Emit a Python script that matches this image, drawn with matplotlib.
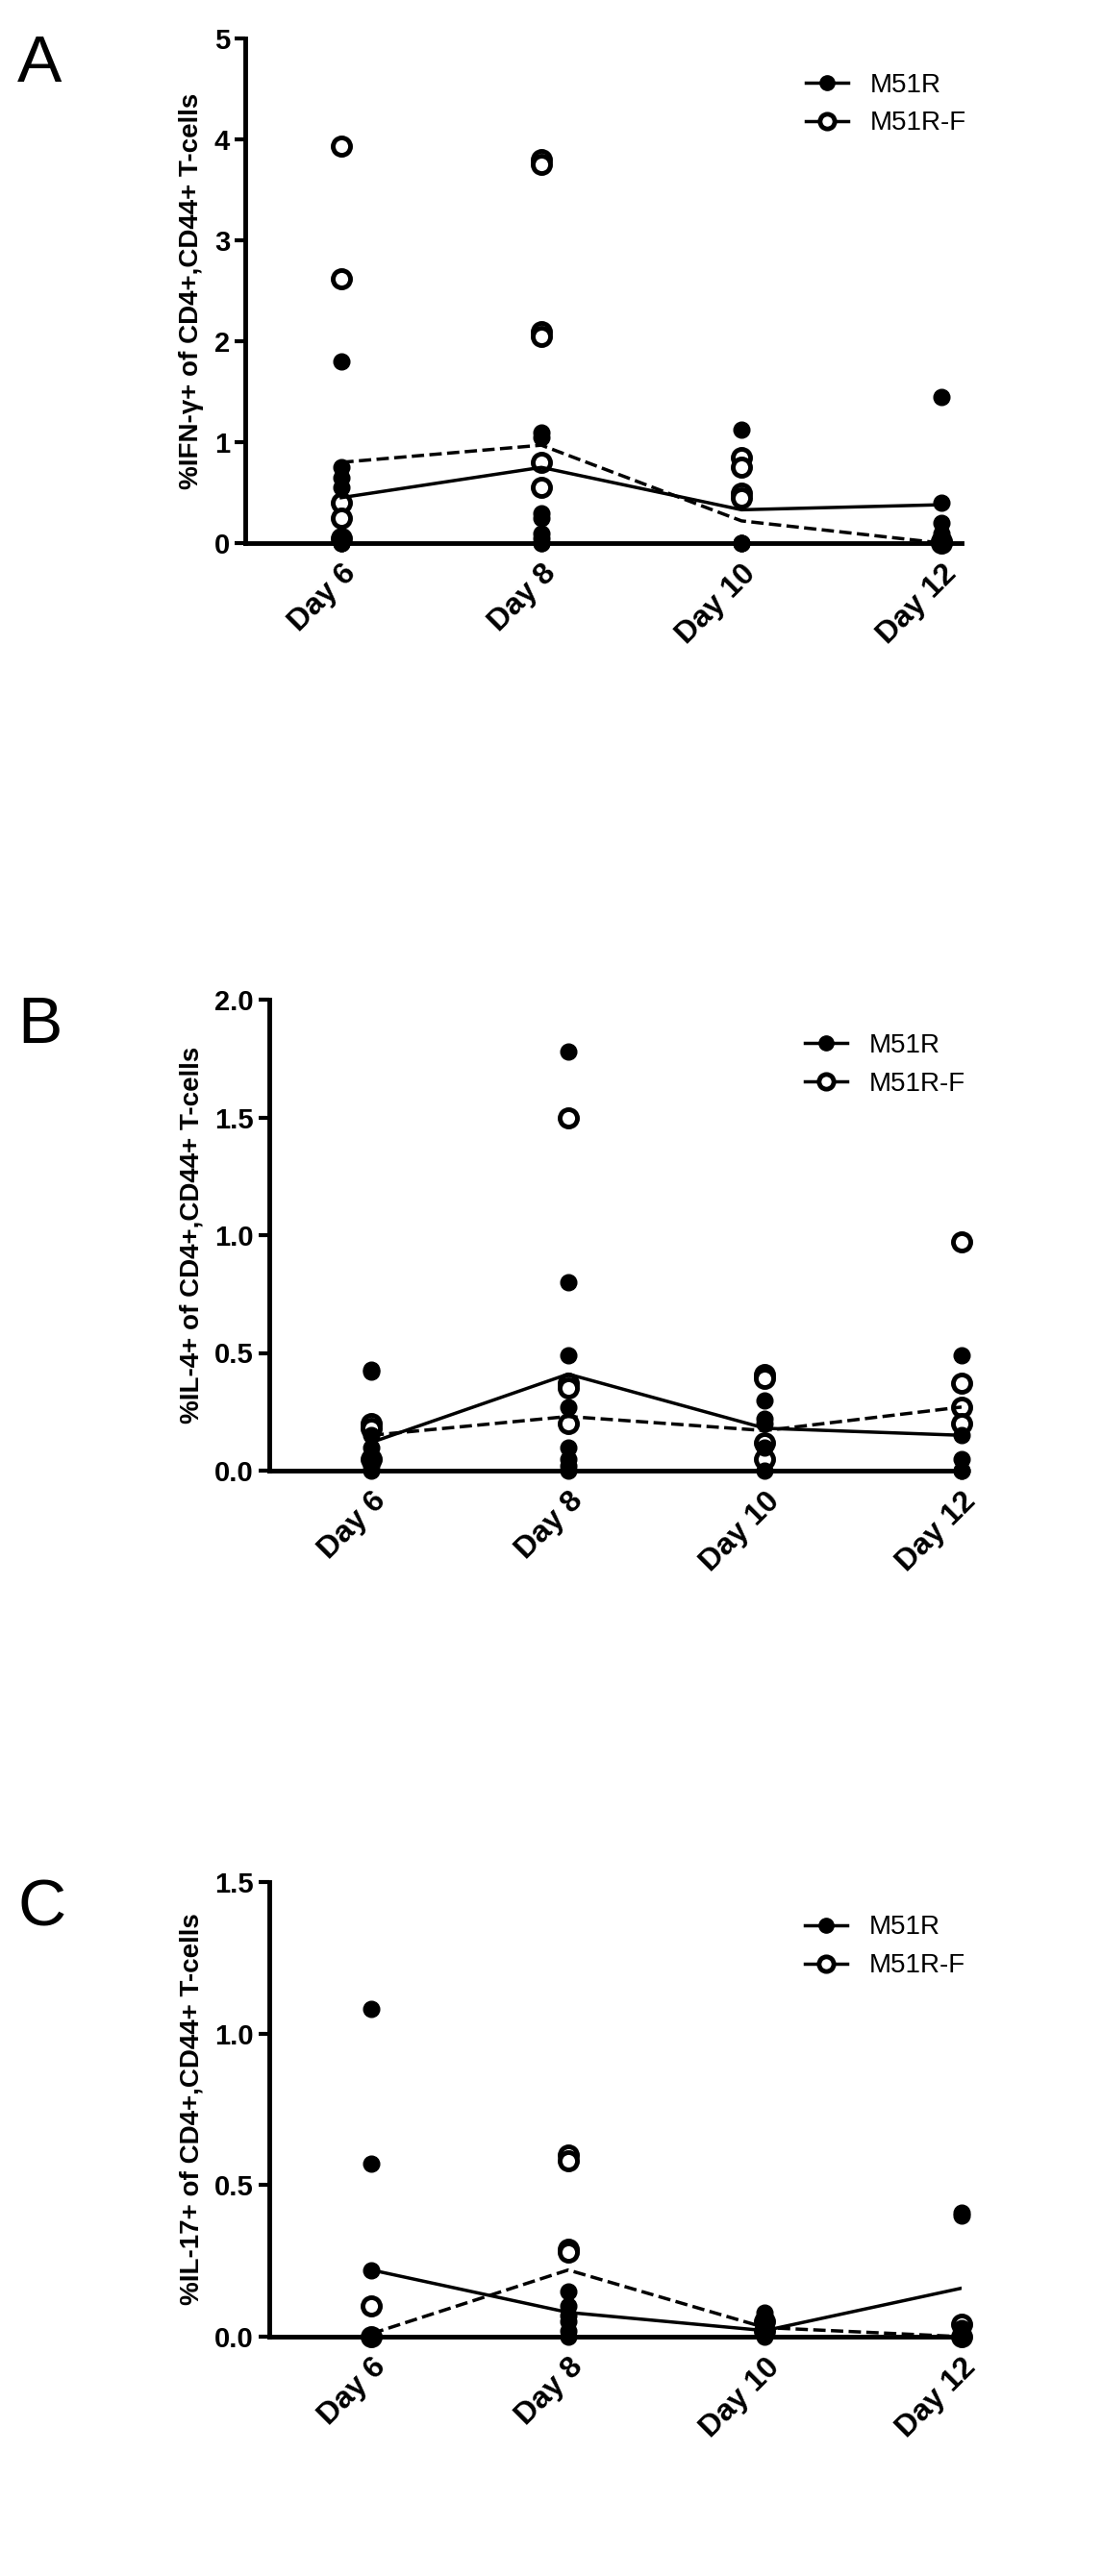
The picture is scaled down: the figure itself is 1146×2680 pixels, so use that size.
import matplotlib
matplotlib.use("Agg")
import matplotlib.pyplot as plt

plt.rcParams["font.family"] = "Liberation Sans"

days = ["Day 6", "Day 8", "Day 10", "Day 12"]

# panel A: IFN-gamma
a_m51r = [[1.8, 0.75, 0.65, 0.55, 0.05, 0, 0, 0],
          [1.1, 1.05, 0.3, 0.25, 0.1, 0.05, 0, 0],
          [1.12, 0.0, 0.0, 0.0],
          [1.45, 0.4, 0.2, 0.1, 0.05, 0, 0]]
a_m51rf = [[3.93, 2.62, 0.4, 0.25, 0.05],
           [3.8, 3.75, 2.1, 2.05, 0.8, 0.55],
           [0.85, 0.75, 0.5, 0.45],
           [0.02, 0.0]]
a_mean_m51r = [0.45, 0.75, 0.33, 0.38]
a_mean_m51rf = [0.8, 0.97, 0.22, 0.0]

# panel B: IL-4
b_m51r = [[0.43, 0.42, 0.15, 0.1, 0.05, 0.02, 0],
          [1.78, 0.8, 0.49, 0.27, 0.1, 0.05, 0.02, 0],
          [0.3, 0.22, 0.2, 0.1, 0.0],
          [0.49, 0.15, 0.05, 0.0, 0.0]]
b_m51rf = [[0.2, 0.18, 0.05],
           [1.5, 0.37, 0.35, 0.2],
           [0.41, 0.39, 0.12, 0.05],
           [0.97, 0.37, 0.27, 0.2]]
b_mean_m51r = [0.12, 0.41, 0.18, 0.15]
b_mean_m51rf = [0.15, 0.23, 0.17, 0.27]

# panel C: IL-17
c_m51r = [[1.08, 0.57, 0.22, 0.0, 0.0],
          [0.15, 0.1, 0.07, 0.05, 0.02, 0],
          [0.08, 0.06, 0.03, 0.0],
          [0.41, 0.4, 0.03, 0.02, 0.0]]
c_m51rf = [[0.1, 0.0],
           [0.6, 0.58, 0.29, 0.28],
           [0.05, 0.02],
           [0.04, 0.0]]
c_mean_m51r = [0.22, 0.08, 0.02, 0.16]
c_mean_m51rf = [0.01, 0.22, 0.03, 0.0]

W, H = 1146, 2680
fig = plt.figure(figsize=(W / 100, H / 100), dpi=100)

panels = [
    ("A", (255, 40, 1000, 565), (-0.48, 3.1), 5, [0, 1, 2, 3, 4, 5], "{:.0f}",
     a_m51r, a_m51rf, a_mean_m51r, a_mean_m51rf, "%IFN-\u03b3+ of CD4+,CD44+ T-cells"),
    ("B", (280, 1040, 1000, 1530), (-0.52, 3.0), 2.0, [0, 0.5, 1.0, 1.5, 2.0], "{:.1f}",
     b_m51r, b_m51rf, b_mean_m51r, b_mean_m51rf, "%IL-4+ of CD4+,CD44+ T-cells"),
    ("C", (280, 1958, 1000, 2431), (-0.52, 3.0), 1.5, [0, 0.5, 1.0, 1.5], "{:.1f}",
     c_m51r, c_m51rf, c_mean_m51r, c_mean_m51rf, "%IL-17+ of CD4+,CD44+ T-cells"),
]

for letter, (l, t, r, b), xl, ymax, yt, fmt, filled, opened, mf, mo, ylab in panels:
    ax = fig.add_axes([l / W, 1 - b / H, (r - l) / W, (b - t) / H])
    for i in range(4):
        ax.plot([i] * len(opened[i]), opened[i], "o", ms=13, mfc="white",
                mec="black", mew=3.5, clip_on=False, zorder=3)
        ax.plot([i] * len(filled[i]), filled[i], "o", ms=12, color="black",
                clip_on=False, zorder=4)
    ax.plot(range(4), mf, "-", color="black", lw=2.5, zorder=5)
    ax.plot(range(4), mo, "--", color="black", lw=2.5, zorder=5)
    ax.plot([], [], "-o", color="black", ms=11, lw=2.5, label="M51R")
    ax.plot([], [], "-o", color="black", ms=11, mfc="white", mew=3.5, lw=2.5, label="M51R-F")
    ax.legend(loc="upper right", frameon=False, fontsize=20, handlelength=1.6,
              bbox_to_anchor=(1.04, 0.98))
    ax.set_xlim(*xl)
    ax.set_ylim(0, ymax)
    ax.set_yticks(yt)
    ax.set_yticklabels([fmt.format(v) for v in yt], fontsize=21, fontweight="bold")
    ax.set_xticks(range(4))
    ax.set_xticklabels(days, rotation=45, ha="right", rotation_mode="anchor",
                       fontsize=23, fontweight="bold")
    ax.tick_params(axis="x", length=0, pad=12)
    ax.tick_params(axis="y", width=3, length=8)
    for s in ["top", "right"]:
        ax.spines[s].set_visible(False)
    for s in ["left", "bottom"]:
        ax.spines[s].set_linewidth(3.5)
    ax.set_ylabel(ylab, fontsize=20, fontweight="bold", labelpad=8)
    fig.text(18 / W, 1 - (t - 5) / H, letter, fontsize=50, ha="left", va="top")

fig.savefig("out.png", dpi=100)
